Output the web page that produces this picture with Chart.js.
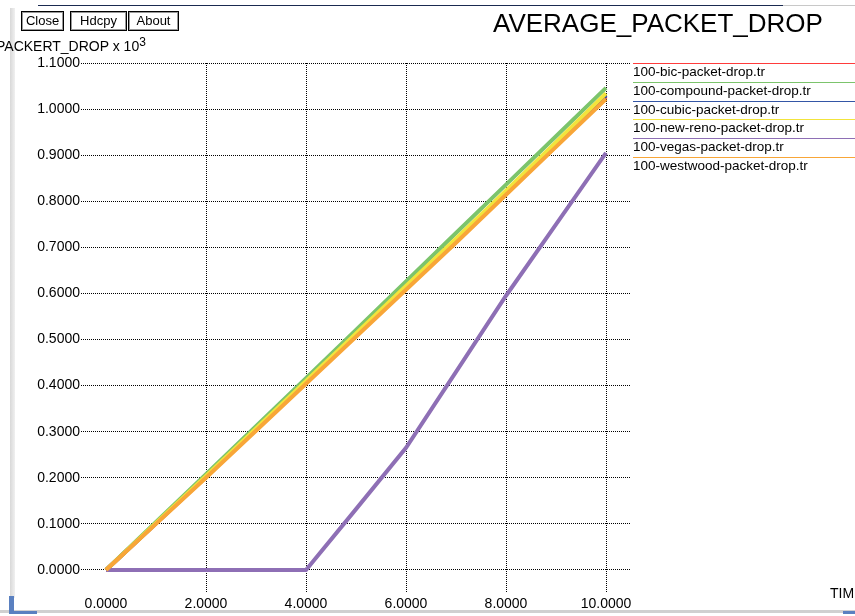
<!DOCTYPE html>
<html>
<head>
<meta charset="utf-8">
<script src="https://cdn.jsdelivr.net/npm/chart.js@4"></script>
<style>
    body { margin: 0; background: #fff; font-family: 'Liberation Sans', Arial, sans-serif; }
    #wrap { position: relative; width: 855px; height: 616px; overflow: hidden; }
    #chart { position: absolute; left: 0; top: 0; }
    .abs { position: absolute; white-space: nowrap; color: #000; }
    .btn { position: absolute; top: 11px; height: 18px; border: 1px solid #000; box-shadow: inset 0 0 0 1px #999;
           font-size: 13px; line-height: 18px; text-align: center; }
    .leg { position: absolute; left: 633px; width: 222px; height: 17px; font-size: 13.5px; line-height: 17px; }
    .leg span { position: absolute; left: 0; top: 0; width: 222px; height: 1px; }
</style>
</head>
<body>
<div id="wrap">
    <canvas id="chart" width="855" height="616"></canvas>
    <div class="abs" style="left:38px;top:5px;width:745px;height:1px;background:#1a2a50"></div>
    <div class="abs" style="left:783px;top:5px;width:72px;height:1px;background:#c8c8c8"></div>
    <div class="abs" style="left:10px;top:8px;width:5px;height:590px;background:linear-gradient(90deg,#d8d8d8,#f0f0f0)"></div>
    <div class="abs" style="left:0;top:610px;width:855px;height:3px;background:#d0d0d0"></div>
    <div class="abs" style="left:9px;top:596px;width:5px;height:18px;background:#5a80c0"></div>
    <div class="abs" style="left:9px;top:611px;width:28px;height:3px;background:#5a80c0"></div>
    <div class="abs" style="left:843px;top:611px;width:12px;height:3px;background:#5a80c0"></div>
    <div class="btn" style="left:21px;width:41px">Close</div>
    <div class="btn" style="left:70px;width:55px">Hdcpy</div>
    <div class="btn" style="left:128px;width:49px">About</div>
    <div class="abs" style="left:493px;top:8px;font-size:26px">AVERAGE_PACKET_DROP</div>
    <div class="abs" style="left:-4px;top:35px;font-size:14px">PACKERT_DROP x 10<sup style="font-size:12px;vertical-align:5px">3</sup></div>
    <div class="abs" style="left:830px;top:585px;font-size:14px">TIM</div>
    <div id="legend"></div>
</div>
<script>
    const times = [0, 1, 2, 3, 4, 5, 6, 7, 8, 9, 10]
    const bic = [0, 0.101, 0.202, 0.304, 0.406, 0.509, 0.611, 0.714, 0.818, 0.922, 1.027]
    const compound = [0, 0.104, 0.208, 0.312, 0.416, 0.521, 0.626, 0.731, 0.836, 0.941, 1.046]
    const cubic = [0, 0.101, 0.203, 0.305, 0.408, 0.511, 0.613, 0.716, 0.82, 0.925, 1.03]
    const newReno = [0, 0.102, 0.204, 0.307, 0.41, 0.513, 0.616, 0.719, 0.823, 0.928, 1.034]
    const vegas = [0, 0, 0, 0, 0, 0.132, 0.265, 0.43, 0.595, 0.75, 0.905]
    const westwood = [0, 0.1, 0.2, 0.302, 0.404, 0.506, 0.608, 0.71, 0.814, 0.918, 1.022]

    const seriesNames = [
        '100-bic-packet-drop.tr',
        '100-compound-packet-drop.tr',
        '100-cubic-packet-drop.tr',
        '100-new-reno-packet-drop.tr',
        '100-vegas-packet-drop.tr',
        '100-westwood-packet-drop.tr',
    ]
    const xTicks = [0, 2, 4, 6, 8, 10]
    const yTicks = [0, 0.1, 0.2, 0.3, 0.4, 0.5, 0.6, 0.7, 0.8, 0.9, 1.0, 1.1]

    const colors = ['#ff3b3b', '#7cc46c', '#3456a6', '#f2e43c', '#8e6fb5', '#f8a638']
    const allSeries = [bic, compound, cubic, newReno, vegas, westwood]

    // legend: coloured rule above each name, like xgraph
    const legend = document.getElementById('legend')
    seriesNames.forEach((name, i) => {
        const d = document.createElement('div')
        d.className = 'leg'
        d.style.top = Math.round(63 + i * 18.8) + 'px'
        const rule = document.createElement('span')
        rule.style.background = colors[i]
        d.appendChild(rule)
        d.appendChild(document.createTextNode(name))
        legend.appendChild(d)
    })

    const font = { family: "'Liberation Sans', Arial, sans-serif", size: 14 }

    new Chart(document.getElementById('chart'), {
        type: 'line',
        data: {
            datasets: allSeries.map((vals, i) => ({
                label: seriesNames[i],
                data: vals.map((v, j) => ({ x: times[j], y: v })),
                borderColor: colors[i],
                borderWidth: 4,
                pointRadius: 0,
                tension: 0,
                order: allSeries.length - 1 - i,
            })),
        },
        options: {
            responsive: false,
            animation: false,
            devicePixelRatio: 1,
            layout: { padding: { left: 0, top: 63, right: 224, bottom: 0 } },
            plugins: { legend: { display: false }, tooltip: { enabled: false } },
            scales: {
                x: {
                    type: 'linear',
                    min: -0.5,
                    max: 10.5,
                    afterBuildTicks: (s) => { s.ticks = xTicks.map((v) => ({ value: v })) },
                    afterFit: (s) => { s.height = 23 },
                    ticks: { callback: (v) => v.toFixed(4), color: '#000', font, padding: 3, maxRotation: 0 },
                    grid: {
                        color: (ctx) => (ctx.tick && ctx.tick.value === 0 ? 'rgba(0,0,0,0)' : '#000'),
                        drawTicks: false,
                        tickLength: 0,
                    },
                    border: { display: false, dash: [1, 1] },
                },
                y: {
                    min: -0.05,
                    max: 1.1,
                    afterBuildTicks: (s) => { s.ticks = yTicks.map((v) => ({ value: v })) },
                    afterFit: (s) => { s.width = 81 },
                    ticks: { callback: (v) => v.toFixed(4), color: '#000', font, padding: 1 },
                    grid: { color: '#000', drawTicks: false, tickLength: 0 },
                    border: { display: false, dash: [1, 1] },
                },
            },
        },
    })
</script>
</body>
</html>
